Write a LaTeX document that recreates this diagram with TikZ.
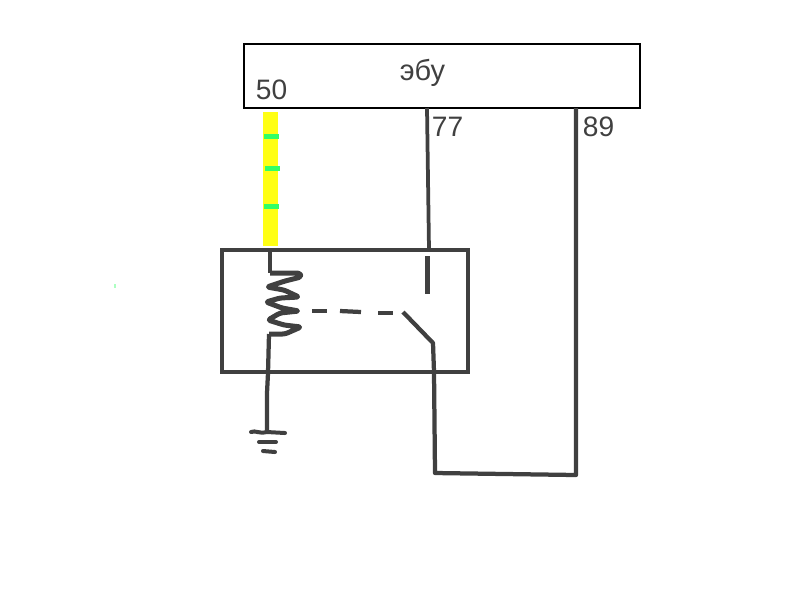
\documentclass[tikz,border=0pt]{standalone}
\usepackage{fontspec}
\setmainfont{Liberation Sans}
\definecolor{wirecol}{HTML}{404040}
\definecolor{markcol}{HTML}{33FF66}
\definecolor{wireyellow}{HTML}{FFFF14}
\tikzset{
  wire/.style={draw=wirecol, line width=0.085cm, line join=round},
  thin wire/.style={draw=wirecol, line width=0.08cm, line cap=round, line join=round},
  pinlabel/.style={text=wirecol, font=\fontsize{16}{16}\selectfont, inner sep=0pt},
  mark tick/.style={draw=markcol, line width=0.1cm},
}
\begin{document}
\begin{tikzpicture}[x=0.02cm, y=-0.02cm]
    \useasboundingbox (0, 0) rectangle (800, 600);
    % boxes
    \node (ecu) [draw=black, line width=0.055cm, outer sep=0pt, minimum width=7.92cm, minimum height=1.28cm, inner sep=0pt] at (442, 76) {};
    \node (relay) [draw=wirecol, line width=0.085cm, outer sep=0pt, minimum width=4.92cm, minimum height=2.44cm, inner sep=0pt] at (345, 311) {};
    % labels
    \node (ecuname) [pinlabel, font=\fontsize{16.5}{16}\selectfont] at (422.5, 73) {эбу};
    \node (pinA) [pinlabel] at (271.5, 90) {50};
    \node (pinB) [pinlabel] at (447.5, 126.5) {77};
    \node (pinC) [pinlabel] at (598.5, 126.5) {89};
    % yellow wire
    \node (yellow) [fill=wireyellow, outer sep=0pt, minimum width=0.3cm, minimum height=2.68cm, inner sep=0pt] at (270.5, 179) {};
    \coordinate (tickA) at (264, 136);
    \coordinate (tickB) at (265, 168);
    \coordinate (tickC) at (264, 206);
    \draw[mark tick] (tickA) -- ++(15, 0);
    \draw[mark tick] (tickB) -- ++(15, 0);
    \draw[mark tick] (tickC) -- ++(15, 0);
    \node (speck) [fill=markcol, fill opacity=0.4, outer sep=0pt, minimum width=0.03cm, minimum height=0.08cm, inner sep=0pt] at (115, 286) {};
    % coil and ground
    \coordinate (coiltop) at (270, 252);
    \coordinate (coilend) at (269, 334);
    \coordinate (gndtop) at (267, 432);
    \draw[wire] (coiltop) -- (270, 273);
    \draw[wire, line width=0.1cm, rounded corners=1.5pt] (270, 273) -- (300, 273) -- (301, 277) -- (285, 281) -- (267, 287)
      -- (284, 290) -- (299, 297) -- (280, 298) -- (266, 302) -- (282, 308) -- (299, 311)
      -- (280, 313) -- (268, 320) -- (284, 325) -- (301, 327) -- (285, 334) -- (coilend);
    \draw[wire] (coilend) -- (268, 373) -- (267, 393) -- (gndtop);
    \coordinate (gndA) at (251, 432);
    \coordinate (gndB) at (285, 433);
    \coordinate (gndC) at (259, 442);
    \coordinate (gndD) at (276, 442);
    \coordinate (gndE) at (263, 451);
    \coordinate (gndF) at (275, 452);
    \draw[thin wire] (gndA) .. controls (256, 430) and (258, 434) .. (gndtop) -- (gndB);
    \draw[thin wire] (gndC) -- (gndD);
    \draw[thin wire] (gndE) -- (gndF);
    % dashed link
    \coordinate (linkA) at (312, 311);
    \coordinate (linkB) at (327, 311);
    \coordinate (linkC) at (340, 311);
    \coordinate (linkD) at (361, 312);
    \coordinate (linkE) at (378, 313);
    \coordinate (linkF) at (393, 313);
    \draw[wire] (linkA) -- (linkB);
    \draw[wire] (linkC) -- (linkD);
    \draw[wire] (linkE) -- (linkF);
    % contact and pins
    \coordinate (pinBtop) at (427, 108);
    \coordinate (pinBend) at (429, 250);
    \coordinate (contactA) at (427.5, 256);
    \coordinate (contactB) at (427.5, 294);
    \coordinate (pinCtop) at (576, 108);
    \coordinate (corner) at (576, 475);
    \coordinate (cornerB) at (435, 473);
    \coordinate (hinge) at (433, 343);
    \coordinate (swtip) at (403, 312);
    \draw[wire, line width=0.075cm] (pinBtop) -- (pinBend);
    \draw[wire] (contactA) -- (contactB);
    \draw[wire] (pinCtop) -- (corner) -- (cornerB) -- (434, 372) -- (hinge) -- (swtip);
\end{tikzpicture}
\end{document}
